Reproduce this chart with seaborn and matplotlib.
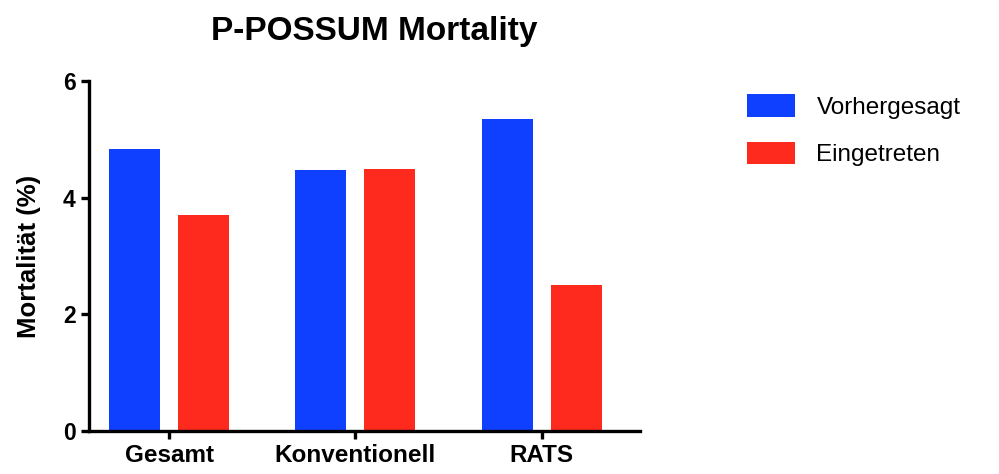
import pandas as pd
import seaborn as sns
import matplotlib.pyplot as plt
from matplotlib.patches import Patch

categories = ['Gesamt', 'Konventionell', 'RATS']
vorhergesagt = [4.84, 4.48, 5.35]
eingetreten = [3.70, 4.50, 2.50]
series_names = ['Vorhergesagt', 'Eingetreten']
colors = ['#1040FF', '#FF2A1E']

sns.set_style('ticks')
plt.rcParams['font.family'] = ['Liberation Sans', 'DejaVu Sans']
plt.rcParams.update({'text.color': 'black', 'axes.labelcolor': 'black',
                     'xtick.color': 'black', 'ytick.color': 'black'})

df = pd.DataFrame({
    'Gruppe': categories * 2,
    'Serie': [series_names[0]] * 3 + [series_names[1]] * 3,
    'Mortalität': vorhergesagt + eingetreten,
})

fig = plt.figure(figsize=(9.99, 4.74), dpi=100)
ax = fig.add_axes([0.089, 0.0907, 0.552, 0.738])

sns.barplot(ax=ax, data=df, x='Gruppe', y='Mortalität', hue='Serie',
            palette=colors, width=0.74, gap=0.26, saturation=1,
            edgecolor='none', legend=False)

ax.set_xlim(-0.43, 2.53)
ax.set_ylim(0, 6)
ax.set_yticks([0, 2, 4, 6])
ax.set_xlabel('')
ax.set_ylabel('Mortalität (%)', fontsize=18.5, fontweight='bold', labelpad=16)
ax.set_title('P-POSSUM Mortality', fontsize=24, fontweight='bold', pad=30, x=0.517)

for side in ['top', 'right']:
    ax.spines[side].set_visible(False)
for side in ['left', 'bottom']:
    ax.spines[side].set_linewidth(2.4)
    ax.spines[side].set_color('black')
ax.tick_params(axis='both', width=2.4, length=6, direction='out', labelsize=16.5)
ax.tick_params(axis='x', labelsize=17.5)
for lbl in ax.get_xticklabels() + ax.get_yticklabels():
    lbl.set_fontweight('bold')

handles = [Patch(facecolor=c, edgecolor='none', label=n) for c, n in zip(colors, series_names)]
fig.legend(handles=handles, loc='upper left', bbox_to_anchor=(0.726, 0.848),
           frameon=False, fontsize=17.5, handlelength=1.95, handleheight=1.06,
           labelspacing=0.95, handletextpad=0.9)

plt.savefig('out.png', dpi=100)
